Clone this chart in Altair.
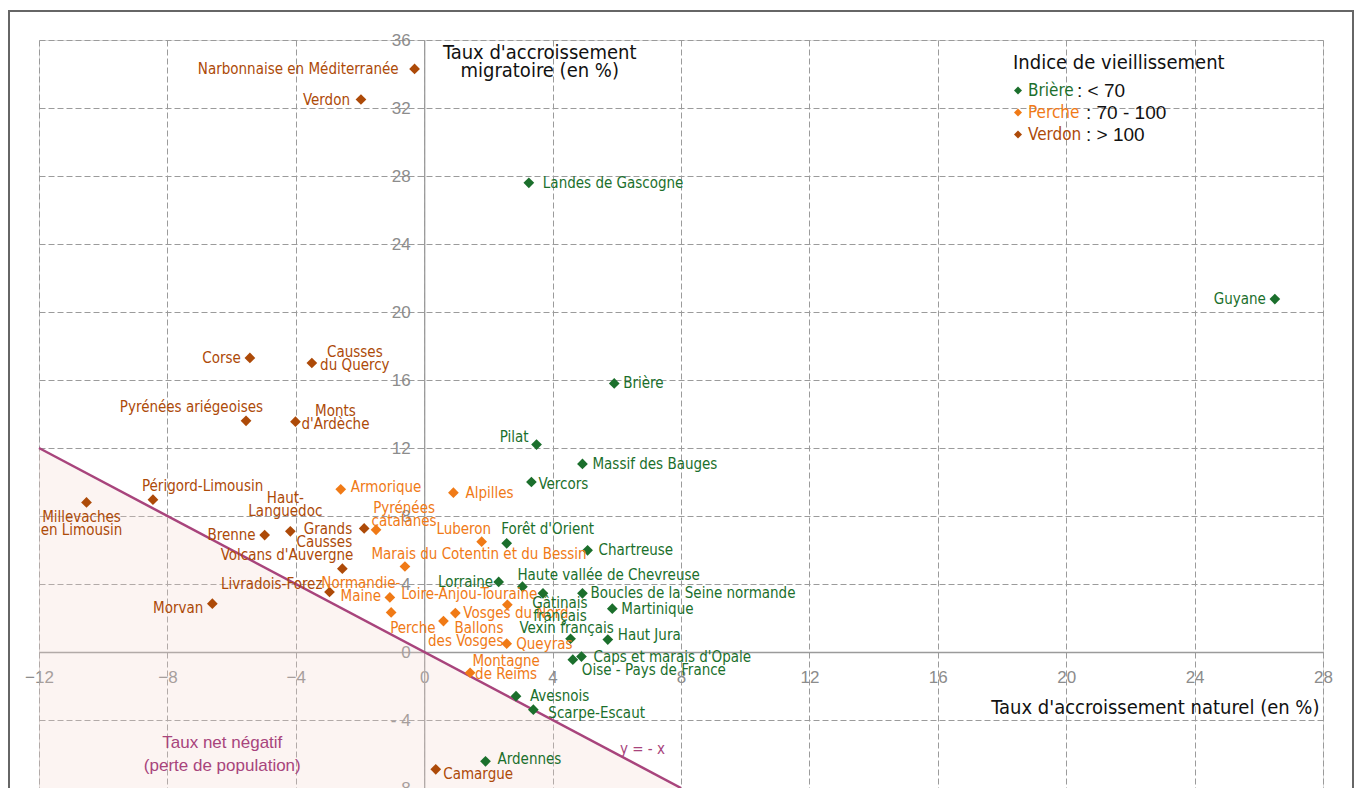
import altair as alt
import pandas as pd

# ---------------- data ----------------
park_names = [
    "Narbonnaise en Méditerranée", "Verdon", "Corse", "Causses\ndu Quercy",
    "Pyrénées ariégeoises", "Monts\nd'Ardèche", "Millevaches\nen Limousin",
    "Périgord-Limousin", "Haut-\nLanguedoc", "Brenne", "Grands\nCausses",
    "Volcans d'Auvergne", "Livradois-Forez", "Morvan", "Camargue",
    "Armorique", "Alpilles", "Pyrénées\ncatalanes", "Luberon",
    "Marais du Cotentin et du Bessin", "Normandie-\nMaine", "Loire-Anjou-Touraine",
    "Perche", "Vosges du Nord", "Ballons\ndes Vosges", "Queyras", "Montagne\nde Reims",
    "Landes de Gascogne", "Guyane", "Brière", "Pilat", "Massif des Bauges",
    "Vercors", "Forêt d'Orient", "Chartreuse", "Lorraine",
    "Haute vallée de Chevreuse", "Gâtinais\nfrançais", "Boucles de la Seine normande",
    "Martinique", "Vexin français", "Haut Jura", "Caps et marais d'Opale",
    "Oise - Pays de France", "Avesnois", "Scarpe-Escaut", "Ardennes",
]
natural_rate = [
    -0.3, -1.97, -5.43, -3.5,
    -5.55, -4.01, -10.52,
    -8.45, -4.17, -4.97, -1.87,
    -2.55, -2.95, -6.6, 0.36,
    -2.6, 0.91, -1.5, 1.79,
    -0.6, -1.07, 2.59,
    -1.03, 0.97, 0.6, 2.57, 1.43,
    3.26, 26.5, 5.92, 3.5, 4.93,
    3.34, 2.57, 5.09, 2.32,
    3.06, 3.7, 4.93,
    5.86, 4.56, 5.72, 4.9,
    4.63, 2.86, 3.4, 1.91,
]
migratory_rate = [
    34.3, 32.5, 17.3, 17.0,
    13.6, 13.55, 8.8,
    8.96, 7.1, 6.88, 7.27,
    4.9, 3.53, 2.84, -6.9,
    9.57, 9.37, 7.19, 6.49,
    5.03, 3.21, 2.78,
    2.33, 2.29, 1.82, 0.49, -1.22,
    27.6, 20.76, 15.8, 12.2, 11.06,
    10.0, 6.39, 5.98, 4.12,
    3.84, 3.45, 3.45,
    2.55, 0.78, 0.73, -0.27,
    -0.45, -2.6, -3.39, -6.43,
]
ageing_class = (["> 100"] * 15) + (["70 - 100"] * 12) + (["< 70"] * 20)

class_order = ["< 70", "70 - 100", "> 100"]
class_colors = ["#1b6f2c", "#f07a16", "#ad4a08"]
legend_names = ["Brière", "Perche", "Verdon"]

axis_x_ticks = [-12, -8, -4, 0, 4, 8, 12, 16, 20, 24, 28]
axis_y_ticks = [-8, -4, 0, 4, 8, 12, 16, 20, 24, 28, 32, 36]

line_x = [-12, 8]            # the y = -x reference line
line_y = [12, -8]

# ---------------- label layout (pixel offsets from each marker) ----------------
label_align = [
    "right", "right", "right", "center",
    "right", "center", "center",
    "left", "center", "right", "right",
    "right", "right", "right", "left",
    "left", "left", "center", "right",
    "left", "center", "right",
    "left", "left", "right", "left", "center",
    "left", "right", "left", "right", "left",
    "left", "left", "left", "right",
    "left", "center", "left",
    "left", "center", "left", "left",
    "left", "left", "left", "left",
]
label_dx = [
    -16, -11, -9, 43,
    17, 40, -5,
    -11, -5, -9, -12,
    11, -7, -9, 7.5,
    10, 12, 28, 9.5,
    -33.5, -29, 30,
    -1, 8, 60, 9.5, 36,
    14, -9, 9, -8, 10,
    7, -5.5, 11, -5.5,
    -5, 17, 8,
    9, -4, 10, 12,
    9, 14, 15, 12,
]
label_dy = [
    0, 0, 0, -5,
    -14, -4, 21,
    -14, -27, 0, 7.5,
    -14, -8, 4, 5,
    -2, 0, -15.5, -13,
    -12, -8, -11,
    16, 0, 13.5, 0, -5,
    0, 0, 0, -8, 0,
    2, -14.5, 0, 0,
    -12, 16, 0,
    0, -10.5, -5, 0,
    10, 0, 3, -2,
]

W, H = 1284, 748
XD, YD = [-12, 28], [-8, 36]
PX_X = W / (XD[1] - XD[0])
PX_Y = H / (YD[1] - YD[0])
LINE_H = 13

df = pd.DataFrame({
    "name": park_names,
    "x": natural_rate,
    "y": migratory_rate,
    "cls": ageing_class,
    "align": label_align,
})
# vertical centring of multi-line labels (Vega anchors the first line)
n_extra = df["name"].str.count("\n")
dy_px = pd.Series(label_dy) - n_extra * LINE_H / 2
df["lx"] = df["x"] + pd.Series(label_dx) / PX_X
df["ly"] = df["y"] - dy_px / PX_Y

LBL_FONT = "Liberation Sans Narrow, DejaVu Sans Condensed, Roboto Condensed, sans-serif"
TICK_FONT = "Liberation Sans, Arial, sans-serif"
GRID = "#9b9b9b"
MAGENTA = "#a8447c"

xs = alt.Scale(domain=XD, nice=False, zero=False)
ys = alt.Scale(domain=YD, nice=False, zero=False)
cs = alt.Scale(domain=class_order, range=class_colors)

x_axis = alt.Axis(
    values=axis_x_ticks, orient="bottom", offset=-(0 - YD[0]) * PX_Y,
    grid=True, gridDash=[6, 3], gridColor=GRID, gridWidth=1,
    domainColor=GRID, domainWidth=1.3, tickColor=GRID, tickSize=5,
    labelColor="#8c8c8c", labelFont=TICK_FONT, labelFontSize=17, labelPadding=12,
    labelFlush=False, labelOverlap=False,
    title="Taux d'accroissement naturel (en %)",
    titleX=W - 4, titleY=55, titleAlign="right", titleBaseline="middle",
    titleFont=LBL_FONT, titleFontSize=20, titleFontWeight="normal", titleColor="#111",
)
y_axis = alt.Axis(
    values=axis_y_ticks, orient="left", offset=-(0 - XD[0]) * PX_X,
    grid=True, gridDash=[6, 3], gridColor=GRID, gridWidth=1,
    domainColor=GRID, domainWidth=1.3, tickColor=GRID, tickSize=5,
    labelColor="#8c8c8c", labelFont=TICK_FONT, labelFontSize=17, labelPadding=9,
    labelFlush=False, labelOverlap=False,
    labelExpr="datum.value < 0 ? '- ' + (-datum.value) : datum.label",
    title=["Taux d'accroissement", "migratoire (en %)"],
    titleAngle=0, titleX=115, titleY=12, titleAlign="center", titleBaseline="middle",
    titleLineHeight=18,
    titleFont=LBL_FONT, titleFontSize=20, titleFontWeight="normal", titleColor="#111",
)

# shaded "negative net rate" zone
zone = alt.Chart(pd.DataFrame({"x": line_x, "y": line_y, "y2": [YD[0]] * 2})).mark_area(
    color="#f5d6cc", opacity=0.26
).encode(
    x=alt.X("x:Q", scale=xs, axis=x_axis),
    y=alt.Y("y:Q", scale=ys, axis=y_axis),
    y2="y2:Q",
)

diag = alt.Chart(pd.DataFrame({"x": line_x, "y": line_y})).mark_line(
    color=MAGENTA, strokeWidth=2.5
).encode(x=alt.X("x:Q", scale=xs), y=alt.Y("y:Q", scale=ys))

pts = alt.Chart(df).mark_point(shape="diamond", filled=True, size=115, opacity=1).encode(
    x=alt.X("x:Q", scale=xs),
    y=alt.Y("y:Q", scale=ys),
    color=alt.Color("cls:N", scale=cs, legend=None),
)

label_layers = []
for a in ["left", "right", "center"]:
    label_layers.append(
        alt.Chart(df).transform_filter(alt.datum.align == a).mark_text(
            align=a, baseline="middle", font=LBL_FONT, fontSize=15, lineBreak="\n", lineHeight=LINE_H
        ).encode(
            x=alt.X("lx:Q", scale=xs),
            y=alt.Y("ly:Q", scale=ys),
            text="name:N",
            color=alt.Color("cls:N", scale=cs, legend=None),
        )
    )

zone_note = alt.Chart(pd.DataFrame({"x": [-6.29], "y": [-5.35], "t": ["Taux net négatif\n(perte de population)"]})).mark_text(
    font=TICK_FONT, fontSize=17, lineBreak="\n", lineHeight=23, color=MAGENTA, align="center", baseline="middle"
).encode(x=alt.X("x:Q", scale=xs), y=alt.Y("y:Q", scale=ys), text="t:N")

line_note = alt.Chart(pd.DataFrame({"x": [6.8], "y": [-5.7], "t": ["y = - x"]})).mark_text(
    font=LBL_FONT, fontSize=15, color=MAGENTA, align="center", baseline="middle"
).encode(x=alt.X("x:Q", scale=xs), y=alt.Y("y:Q", scale=ys), text="t:N")

# custom legend (top right)
one = pd.DataFrame({"k": [0]})
legend_layers = [
    alt.Chart(one).mark_text(
        text="Indice de vieillissement", font=LBL_FONT, fontSize=20, color="#111",
        align="left", baseline="middle"
    ).encode(x=alt.value(974), y=alt.value(23))
]
range_x = [1038, 1047, 1047]
for i, (nm, rg, col) in enumerate(zip(legend_names, ["< 70", "70 - 100", "> 100"], class_colors)):
    yy = 50.5 + 22 * i
    legend_layers.append(
        alt.Chart(one).mark_point(shape="diamond", filled=True, size=64, color=col, opacity=1)
        .encode(x=alt.value(979), y=alt.value(yy))
    )
    legend_layers.append(
        alt.Chart(one).mark_text(text=nm, font=LBL_FONT, fontSize=17, color=col, align="left", baseline="middle")
        .encode(x=alt.value(989), y=alt.value(yy))
    )
    legend_layers.append(
        alt.Chart(one).mark_text(text=": " + rg, font=TICK_FONT, fontSize=19, color="#111", align="left", baseline="middle")
        .encode(x=alt.value(range_x[i]), y=alt.value(yy))
    )

frame = alt.Chart(one).mark_rect(fill=None, stroke="#666", strokeWidth=2).encode(
    x=alt.value(-30), x2=alt.value(1314), y=alt.value(-29), y2=alt.value(770)
)

chart = alt.layer(
    zone, diag, pts, *label_layers, zone_note, line_note, *legend_layers, frame
).properties(
    width=W, height=H,
    autosize=alt.AutoSizeParams(type="none"),
    padding={"left": 31, "top": 32, "right": 32, "bottom": 0},
).configure_view(stroke=None).configure(background="white")

chart.save("out.html", embed_options={"renderer": "svg", "actions": False})
